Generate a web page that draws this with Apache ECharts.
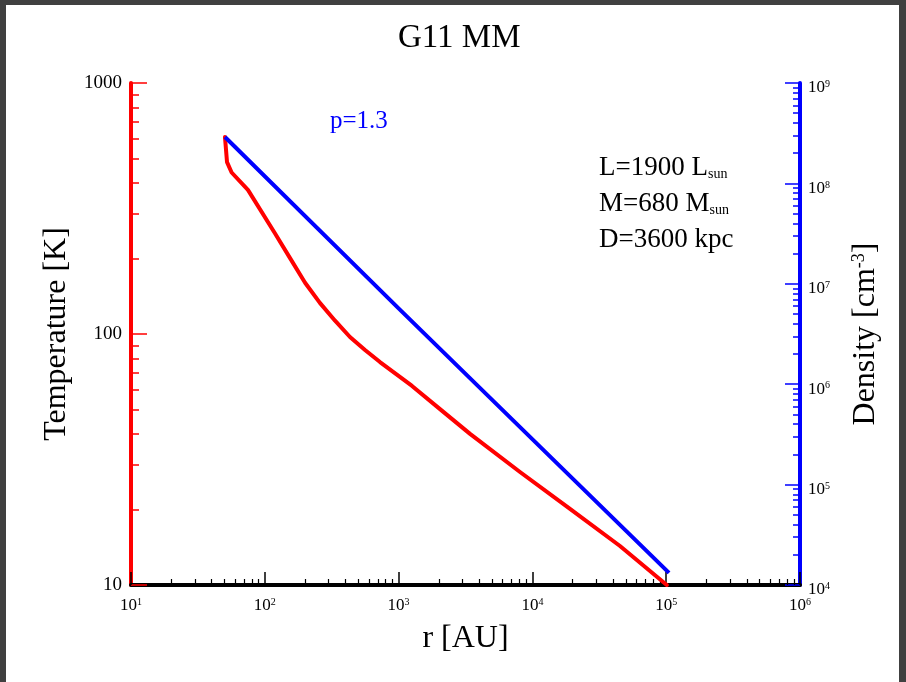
<!DOCTYPE html>
<html><head><meta charset="utf-8">
<script src="https://cdn.jsdelivr.net/npm/echarts@6/dist/echarts.min.js"></script>
<style>html,body{margin:0;padding:0;background:#fff}#c{width:906px;height:682px}</style>
</head><body><div id="c"></div>
<script>
// Temperature profile (red)
const radiusT = [50.4, 52.2, 56.5, 74.8, 119, 154, 200, 258, 335, 433, 561, 726, 1260, 2039, 3420, 8077, 19100, 45140, 101000];
const temperature = [609, 484, 440, 375, 252, 201, 160, 133, 113, 97.3, 86.4, 77.3, 62.1, 50.2, 40.0, 28.2, 20.1, 14.3, 10.0];
// Density profile (blue), p = 1.3
const radiusN = [50.4, 1000, 105000];
const density = [2.9e8, 5.7e6, 1.32e4];
// Axis ticks
const xMajor = [10, 100, 1e3, 1e4, 1e5, 1e6];
const tMajor = [10, 100, 1000];
const nMajor = [1e4, 1e5, 1e6, 1e7, 1e8, 1e9];
const tLabels = ['10', '100', '1000'];

function minors(major) {
  const out = [];
  for (let i = 0; i < major.length - 1; i++) for (let k = 2; k <= 9; k++) out.push(major[i] * k);
  return out;
}
const serif = '"Liberation Serif","DejaVu Serif",serif';
const supFmt = v => '{b|10}{s|' + Math.round(Math.log10(v)) + '}';
const supRich = {
  b: { fontSize: 17, fontFamily: serif, color: '#000' },
  s: { fontSize: 10, fontFamily: serif, color: '#000', verticalAlign: 'top' }
};

const chart = echarts.init(document.getElementById('c'));
chart.setOption({
  backgroundColor: '#fff',
  animation: false,
  title: {
    text: 'G11 MM', left: 398, top: 22, padding: 0,
    textStyle: { fontFamily: serif, fontSize: 33, fontWeight: 'normal', color: '#000' }
  },
  grid: { left: 131, right: 106, top: 83, bottom: 97, containLabel: false },
  xAxis: [
    {
      type: 'log', logBase: 10, min: 10, max: 1e6, position: 'bottom',
      name: 'r [AU]', nameLocation: 'middle', nameGap: 38,
      nameTextStyle: { fontFamily: serif, fontSize: 32, color: '#000' },
      axisLine: { show: true, onZero: false, lineStyle: { color: '#000', width: 4 } },
      axisTick: { show: true, inside: true, length: 13, customValues: xMajor, lineStyle: { color: '#000', width: 1.5 } },
      axisLabel: { show: true, customValues: xMajor, formatter: supFmt, rich: supRich, margin: 12 },
      splitLine: { show: false }
    },
    {
      type: 'log', logBase: 10, min: 10, max: 1e6, position: 'bottom',
      axisLine: { show: false },
      axisTick: { show: true, inside: true, length: 6, customValues: minors(xMajor), lineStyle: { color: '#000', width: 1.2 } },
      axisLabel: { show: false },
      splitLine: { show: false }
    }
  ],
  yAxis: [
    {
      type: 'log', logBase: 10, min: 10, max: 1000, position: 'left',
      name: 'Temperature [K]', nameLocation: 'middle', nameGap: 58, nameRotate: 90,
      nameTextStyle: { fontFamily: serif, fontSize: 32, color: '#000' },
      axisLine: { show: true, onZero: false, lineStyle: { color: '#ff0000', width: 4 } },
      axisTick: { show: true, inside: true, length: 16, customValues: tMajor, lineStyle: { color: '#ff0000', width: 1.5 } },
      axisLabel: { show: true, customValues: tMajor, formatter: v => tLabels[tMajor.indexOf(v)] ?? String(v), fontFamily: serif, fontSize: 19, color: '#000', margin: 9 },
      splitLine: { show: false }
    },
    {
      type: 'log', logBase: 10, min: 10, max: 1000, position: 'left',
      axisLine: { show: false },
      axisTick: { show: true, inside: true, length: 8, customValues: minors(tMajor), lineStyle: { color: '#ff0000', width: 1.5 } },
      axisLabel: { show: false },
      splitLine: { show: false }
    },
    {
      type: 'log', logBase: 10, min: 1e4, max: 1e9, position: 'right',
      name: 'Density [cm{s|-3}]', nameLocation: 'middle', nameGap: 50, nameRotate: 90,
      nameTextStyle: { fontFamily: serif, fontSize: 32, color: '#000',
        rich: { s: { fontFamily: serif, fontSize: 18, color: '#000', verticalAlign: 'top' } } },
      axisLine: { show: true, onZero: false, lineStyle: { color: '#0000ff', width: 4 } },
      axisTick: { show: true, inside: true, length: 15, customValues: nMajor, lineStyle: { color: '#0000ff', width: 1.5 } },
      axisLabel: { show: true, customValues: nMajor, formatter: supFmt, rich: supRich, margin: 8, padding: [10, 0, 0, 0] },
      splitLine: { show: false }
    },
    {
      type: 'log', logBase: 10, min: 1e4, max: 1e9, position: 'right',
      axisLine: { show: false },
      axisTick: { show: true, inside: true, length: 7, customValues: minors(nMajor), lineStyle: { color: '#0000ff', width: 1.5 } },
      axisLabel: { show: false },
      splitLine: { show: false }
    }
  ],
  series: [
    {
      type: 'line', name: 'Temperature', xAxisIndex: 0, yAxisIndex: 0,
      data: radiusT.map((r, i) => [r, temperature[i]]),
      showSymbol: false, lineStyle: { color: '#ff0000', width: 4, join: 'round', cap: 'round' }, itemStyle: { color: '#ff0000' }
    },
    {
      type: 'line', name: 'Density', xAxisIndex: 0, yAxisIndex: 2,
      data: radiusN.map((r, i) => [r, density[i]]),
      showSymbol: false, lineStyle: { color: '#0000ff', width: 4 }, itemStyle: { color: '#0000ff' }
    }
  ],
  graphic: [
    { type: 'rect', shape: { x: 0, y: 0, width: 906, height: 5 }, style: { fill: '#404040' } },
    { type: 'rect', shape: { x: 0, y: 0, width: 6, height: 682 }, style: { fill: '#404040' } },
    { type: 'rect', shape: { x: 899, y: 0, width: 7, height: 682 }, style: { fill: '#404040' } },
    { type: 'text', x: 330, y: 109, style: { text: 'p=1.3', fill: '#0000ff', fontFamily: serif, fontSize: 25 } },
    { type: 'text', x: 599, y: 150, style: {
        text: 'L=1900 L{sub|sun}\nM=680 M{sub|sun}\nD=3600 kpc',
        fill: '#000', fontFamily: serif, fontSize: 27, lineHeight: 36,
        rich: { sub: { fontFamily: serif, fontSize: 14, fill: '#000', verticalAlign: 'bottom', lineHeight: 14, padding: [0, 0, 5, 0] } }
      } }
  ]
});
</script>
</body></html>
